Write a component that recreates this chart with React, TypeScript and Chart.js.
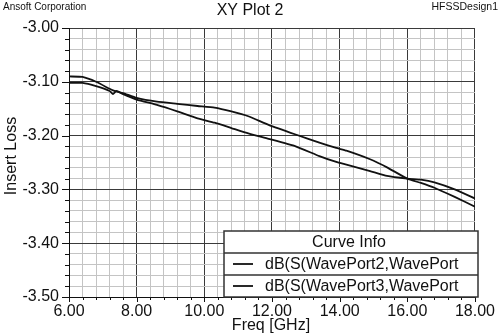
import React, { useEffect, useRef } from "react";
import { Chart, registerables } from "chart.js";

Chart.register(...registerables);

// ---- data ----
const FREQ_GHZ = [6.0, 6.4, 6.8, 7.2, 7.3, 7.4, 7.6, 8.0, 8.6, 9.2, 9.8, 10.3, 10.8, 11.3, 11.9, 12.7, 13.4, 13.9, 14.2, 14.9, 15.4, 16.0, 16.4, 16.8, 17.4, 18.0];
const S_PORT2 = [-3.090, -3.091, -3.100, -3.113, -3.116, -3.118, -3.121, -3.130, -3.137, -3.141, -3.145, -3.148, -3.155, -3.164, -3.180, -3.198, -3.213, -3.223, -3.228, -3.244, -3.259, -3.280, -3.288, -3.297, -3.314, -3.332];
const S_PORT3 = [-3.102, -3.102, -3.108, -3.117, -3.123, -3.117, -3.123, -3.133, -3.143, -3.155, -3.168, -3.176, -3.186, -3.196, -3.206, -3.220, -3.238, -3.249, -3.254, -3.266, -3.275, -3.280, -3.282, -3.287, -3.300, -3.317];
const SERIES_LABELS = ["dB(S(WavePort2,WavePort", "dB(S(WavePort3,WavePort"];
const X_MIN = 6, X_MAX = 18, X_STEP = 0.4, X_MAJOR = 2;
const Y_MIN = -3.5, Y_MAX = -3.0, Y_STEP = 0.02, Y_MAJOR = 0.1;
const TITLE = "XY Plot 2";
const COMPANY = "Ansoft Corporation";
const DESIGN = "HFSSDesign1";
const X_TITLE = "Freq [GHz]";
const Y_TITLE = "Insert Loss";
const LEGEND_TITLE = "Curve Info";

const FONT = "'Liberation Sans', Arial, sans-serif";

const isMajor = (v: number, m: number) => Math.abs(v / m - Math.round(v / m)) < 1e-6;

const overlay = {
  id: "overlay",
  afterDraw(chart: any) {
    const ctx = chart.ctx as CanvasRenderingContext2D;
    const { left, right, top, bottom } = chart.chartArea;
    const xs = chart.scales.x;
    const ys = chart.scales.y;
    ctx.save();
    // tick marks
    ctx.strokeStyle = "#111";
    ctx.lineWidth = 1;
    xs.ticks.forEach((t: any) => {
      const px = Math.round(xs.getPixelForValue(t.value)) + 0.5;
      const len = isMajor(t.value, X_MAJOR) ? 5 : 3;
      ctx.beginPath();
      ctx.moveTo(px, bottom);
      ctx.lineTo(px, bottom + len);
      ctx.stroke();
    });
    ys.ticks.forEach((t: any) => {
      const py = Math.round(ys.getPixelForValue(t.value)) + 0.5;
      const len = isMajor(t.value, Y_MAJOR) ? 7 : 4;
      ctx.beginPath();
      ctx.moveTo(left - len, py);
      ctx.lineTo(left, py);
      ctx.stroke();
    });

    // header texts
    ctx.fillStyle = "#111";
    ctx.textBaseline = "middle";
    ctx.font = `10px ${FONT}`;
    ctx.textAlign = "left";
    ctx.fillText(COMPANY, 3, 7);
    ctx.textAlign = "right";
    ctx.font = `10.5px ${FONT}`;
    ctx.fillText(DESIGN, 498, 7);
    ctx.textAlign = "center";
    ctx.font = `16px ${FONT}`;
    ctx.fillText(TITLE, 250, 11);

    // axis titles
    ctx.fillText(X_TITLE, (left + right) / 2 - 1, 326);
    ctx.save();
    ctx.translate(12, 156);
    ctx.rotate(-Math.PI / 2);
    ctx.fillText(Y_TITLE, 0, 0);
    ctx.restore();

    // legend box
    const bx1 = 224, bx2 = 478, by1 = 231, by2 = 297;
    const rowH = 22;
    ctx.fillStyle = "#fff";
    ctx.fillRect(bx1, by1, bx2 - bx1, by2 - by1);
    ctx.strokeStyle = "#333";
    ctx.lineWidth = 1.5;
    ctx.strokeRect(bx1, by1, bx2 - bx1, by2 - by1);
    ctx.beginPath();
    ctx.moveTo(bx1, by1 + rowH);
    ctx.lineTo(bx2, by1 + rowH);
    ctx.moveTo(bx1, by1 + rowH * 2);
    ctx.lineTo(bx2, by1 + rowH * 2);
    ctx.stroke();
    ctx.fillStyle = "#111";
    ctx.font = `16px ${FONT}`;
    ctx.textAlign = "center";
    ctx.fillText(LEGEND_TITLE, (bx1 + bx2) / 2 - 2, by1 + rowH / 2 + 1);
    chart.data.datasets.forEach((ds: any, i: number) => {
      const cy = by1 + rowH * (i + 1) + rowH / 2;
      ctx.strokeStyle = ds.borderColor;
      ctx.lineWidth = 1.8;
      ctx.beginPath();
      ctx.moveTo(233, cy);
      ctx.lineTo(253, cy);
      ctx.stroke();
      ctx.save();
      ctx.beginPath();
      ctx.rect(bx1, by1, bx2 - bx1 - 4, by2 - by1);
      ctx.clip();
      ctx.fillStyle = "#111";
      ctx.textAlign = "left";
      ctx.fillText(ds.label, 265, cy + 1);
      ctx.restore();
    });
    ctx.restore();
  },
};

export default function App() {
  const ref = useRef<HTMLCanvasElement>(null);
  useEffect(() => {
    if (!ref.current) return;
    const mk = (vals: number[]) => FREQ_GHZ.map((f, i) => ({ x: f, y: vals[i] }));
    const chart = new Chart(ref.current, {
      type: "line",
      data: {
        datasets: [
          { label: SERIES_LABELS[0], data: mk(S_PORT2), borderColor: "#111", borderWidth: 1.8, pointRadius: 0, tension: 0.15, fill: false },
          { label: SERIES_LABELS[1], data: mk(S_PORT3), borderColor: "#111", borderWidth: 1.8, pointRadius: 0, tension: 0.15, fill: false },
        ],
      },
      options: {
        animation: false,
        responsive: false,
        events: [],
        layout: { padding: { top: 28, right: 19, left: 0, bottom: 0 } },
        plugins: { legend: { display: false }, tooltip: { enabled: false }, title: { display: false } },
        scales: {
          x: {
            type: "linear",
            min: X_MIN,
            max: X_MAX,
            afterFit: (s: any) => { s.height = 38; },
            border: { color: "#111", width: 1 },
            grid: {
              drawTicks: false,
              color: (c: any) => (isMajor(c.tick.value, X_MAJOR) ? "#3a3a3a" : "#c4c4c4"),
              lineWidth: 1,
            },
            ticks: {
              stepSize: X_STEP,
              autoSkip: false,
              maxRotation: 0,
              maxTicksLimit: 100,
              padding: 5,
              color: "#111",
              font: { family: FONT, size: 16 },
              callback: (v: any) => (isMajor(Number(v), X_MAJOR) ? Number(v).toFixed(2) : ""),
            },
          },
          y: {
            type: "linear",
            min: Y_MIN,
            max: Y_MAX,
            afterFit: (s: any) => { s.width = 69; },
            border: { color: "#111", width: 1 },
            grid: {
              drawTicks: false,
              color: (c: any) => (isMajor(c.tick.value, Y_MAJOR) ? "#3a3a3a" : "#c4c4c4"),
              lineWidth: 1,
            },
            ticks: {
              stepSize: Y_STEP,
              autoSkip: false,
              maxTicksLimit: 100,
              padding: 10,
              color: "#111",
              font: { family: FONT, size: 16 },
              callback: (v: any) => (isMajor(Number(v), Y_MAJOR) ? Number(v).toFixed(2) : ""),
            },
          },
        },
      },
      plugins: [overlay],
    } as any);
    return () => chart.destroy();
  }, []);
  return (
    <div style={{ position: "fixed", left: 0, top: 0, width: 500, height: 335, background: "#fff" }}>
      <canvas ref={ref} width={500} height={335} style={{ display: "block" }} />
    </div>
  );
}
